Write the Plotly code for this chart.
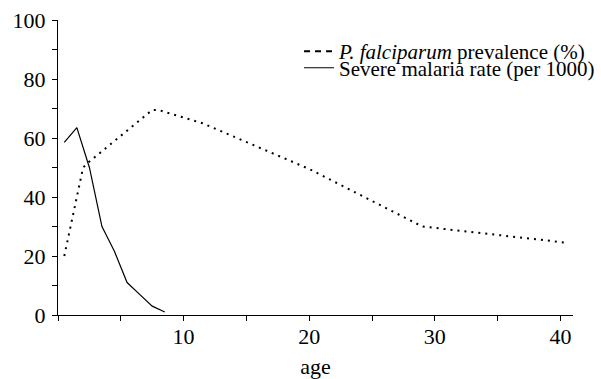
import plotly.graph_objects as go

# P. falciparum prevalence (%) by age
prev_age = [0.5, 2, 2.5, 7.5, 8, 11.5, 20, 29, 40.5]
prev_val = [20, 50, 52, 69.5, 69.5, 65, 49.5, 30, 24.5]

# Severe malaria rate (per 1000) by age
sev_age = [0.5, 1.5, 2.5, 3.5, 4.5, 5.5, 6.5, 7.5, 8.5]
sev_val = [58.5, 63.5, 50, 30, 21.5, 11, 7, 3, 1]

x_tickvals = [0, 5, 10, 15, 20, 25, 30, 35, 40]
x_ticktext = ["", "", "10", "", "20", "", "30", "", "40"]
y_tickvals = [0, 10, 20, 30, 40, 50, 60, 70, 80, 90, 100]
y_ticktext = ["0", "", "20", "", "40", "", "60", "", "80", "", "100"]

FONT = "Liberation Serif"

fig = go.Figure()
fig.add_trace(go.Scatter(
    x=prev_age, y=prev_val, mode="lines",
    line=dict(color="black", width=2, dash="2px,5px"),
    name="<i>P. falciparum</i> prevalence (%)", showlegend=False,
))
# legend key for the prevalence series (dashed key as in original)
fig.add_trace(go.Scatter(
    x=[None], y=[None], mode="lines",
    line=dict(color="black", width=2, dash="6px,5px"),
    name="<i>P. falciparum</i> prevalence (%)", legend="legend",
))
fig.add_trace(go.Scatter(
    x=sev_age, y=sev_val, mode="lines",
    line=dict(color="black", width=1.2),
    name="Severe malaria rate (per 1000)", legend="legend2",
))

fig.update_layout(
    width=601, height=379,
    margin=dict(l=58, r=28, t=20, b=64, autoexpand=False),
    paper_bgcolor="white", plot_bgcolor="white",
    font=dict(family=FONT, size=22, color="black"),
    legend=dict(x=0.468, y=0.893, xanchor="left", yanchor="middle",
                font=dict(size=21), bgcolor="rgba(0,0,0,0)", borderwidth=0),
    legend2=dict(x=0.468, y=0.837, xanchor="left", yanchor="middle",
                 font=dict(size=21), bgcolor="rgba(0,0,0,0)", borderwidth=0),
    xaxis=dict(range=[0, 41], showgrid=False, zeroline=False, automargin=False,
               showline=True, linecolor="black", linewidth=1.3,
               ticks="outside", ticklen=5, tickwidth=1, tickcolor="black",
               tickvals=x_tickvals, ticktext=x_ticktext,
               tickfont=dict(size=22), ticklabelstandoff=-4,
               title=dict(text="age", font=dict(size=22), standoff=13)),
    yaxis=dict(range=[0, 100], showgrid=False, zeroline=False, automargin=False,
               showline=True, linecolor="black", linewidth=1.3,
               ticks="outside", ticklen=5, tickwidth=1, tickcolor="black",
               tickvals=y_tickvals, ticktext=y_ticktext,
               tickfont=dict(size=22), ticklabelstandoff=2),
)

fig.write_html("out.html")
